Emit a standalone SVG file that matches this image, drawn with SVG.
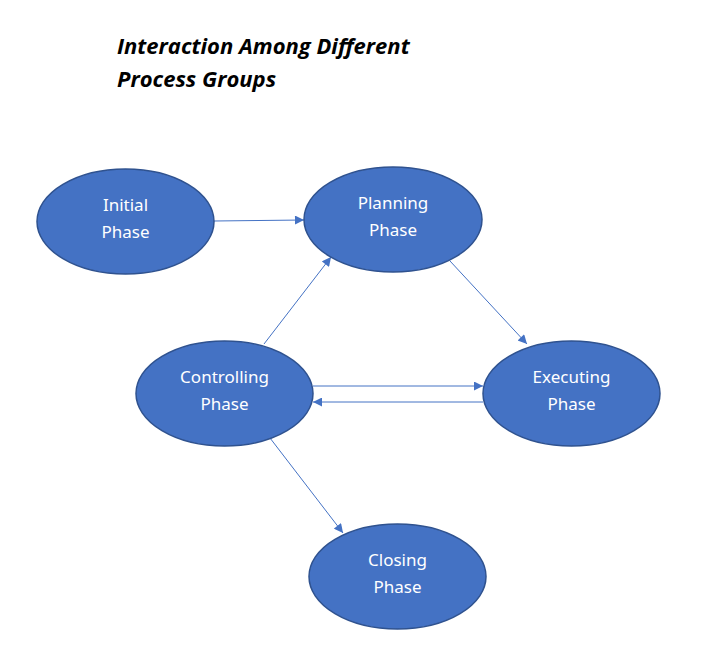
<svg xmlns="http://www.w3.org/2000/svg" width="710" height="663" viewBox="0 0 710 663">
<style>
.node ellipse{fill:#4472C4;stroke:#2F528F;stroke-width:1.5}
.node text{fill:#fff;font-family:"Noto Sans","Open Sans","Liberation Sans",sans-serif;font-size:17px;text-anchor:middle}
.title{font-family:"Open Sans","Noto Sans","Liberation Sans",sans-serif;font-size:22px;font-weight:bold;font-style:italic;fill:#000}
#connectors line{stroke:#4472C4;stroke-width:1;marker-end:url(#arr)}
</style>
<defs>
<marker id="arr" viewBox="0 0 10 10" refX="10" refY="5" markerWidth="11" markerHeight="9" markerUnits="userSpaceOnUse" orient="auto">
<path d="M0,0 L10,5 L0,10 z" fill="#4472C4"/>
</marker>
</defs>
<rect width="710" height="663" fill="#fff"/>
<text class="title" x="117" y="54">Interaction Among Different</text>
<text class="title" x="117" y="87">Process Groups</text>
<g id="connectors">
<line x1="214" y1="221" x2="304" y2="220"/>
<line x1="264" y1="344" x2="331" y2="257"/>
<line x1="450" y1="261" x2="527" y2="344"/>
<line x1="313" y1="386" x2="483" y2="386"/>
<line x1="483" y1="402" x2="313" y2="402"/>
<line x1="270" y1="438" x2="343" y2="533"/>
</g>
<g id="initial" class="node"><ellipse cx="125.5" cy="221.5" rx="88.5" ry="52.5"/><text x="125.5" y="211">Initial</text><text x="125.5" y="238">Phase</text></g>
<g id="planning" class="node"><ellipse cx="393" cy="219.5" rx="89" ry="52.5"/><text x="393" y="209">Planning</text><text x="393" y="236">Phase</text></g>
<g id="controlling" class="node"><ellipse cx="224.5" cy="393.5" rx="88.5" ry="52.5"/><text x="224.5" y="383">Controlling</text><text x="224.5" y="410">Phase</text></g>
<g id="executing" class="node"><ellipse cx="571.5" cy="393.5" rx="88.5" ry="52.5"/><text x="571.5" y="383">Executing</text><text x="571.5" y="410">Phase</text></g>
<g id="closing" class="node"><ellipse cx="397.5" cy="576.5" rx="88.5" ry="52.5"/><text x="397.5" y="566">Closing</text><text x="397.5" y="593">Phase</text></g>
</svg>
